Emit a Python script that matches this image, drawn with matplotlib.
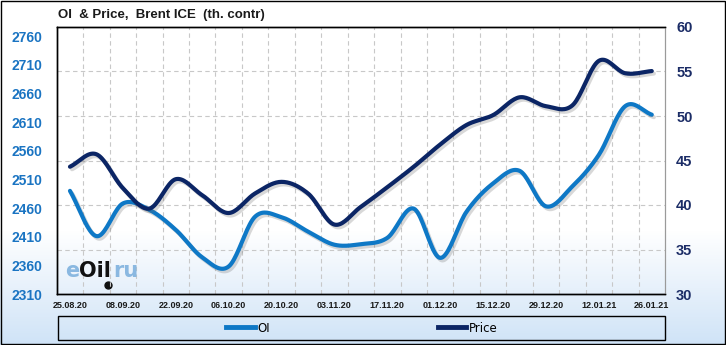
import numpy as np
import matplotlib
matplotlib.use("Agg")
import matplotlib.pyplot as plt
import matplotlib.patheffects as pe
from matplotlib.patches import Rectangle
from matplotlib.lines import Line2D
from matplotlib.colors import LinearSegmentedColormap

weeks = ["25.08.20", "01.09.20", "08.09.20", "15.09.20", "22.09.20", "29.09.20",
         "06.10.20", "13.10.20", "20.10.20", "27.10.20", "03.11.20", "10.11.20",
         "17.11.20", "24.11.20", "01.12.20", "08.12.20", "15.12.20", "22.12.20",
         "29.12.20", "05.01.21", "12.01.21", "19.01.21", "26.01.21"]
oi = [2490, 2411, 2468, 2457, 2422, 2374, 2358, 2445, 2444, 2419, 2396, 2397,
      2408, 2459, 2373, 2454, 2503, 2525, 2463, 2498, 2553, 2638, 2623]
price = [44.3, 45.7, 41.9, 39.6, 42.9, 41.1, 39.1, 41.3, 42.6, 41.3, 37.8, 39.8,
         42.0, 44.3, 46.8, 49.0, 50.1, 52.1, 51.1, 51.2, 56.2, 54.8, 55.05]
left_ticks = [2310, 2360, 2410, 2460, 2510, 2560, 2610, 2660, 2710, 2760]
right_ticks = [30, 35, 40, 45, 50, 55, 60]

OI_COLOR = "#0e78c6"
PRICE_COLOR = "#0b2565"
LEFT_LBL = "#1a74c2"
RIGHT_LBL = "#1b2c66"


def catmull_rom(y, n=20):
    y = np.asarray(y, float)
    x = np.arange(len(y), dtype=float)
    p = np.concatenate([[2 * y[0] - y[1]], y, [2 * y[-1] - y[-2]]])
    xs, ys = [], []
    t = np.linspace(0, 1, n, endpoint=False)
    for i in range(len(y) - 1):
        p0, p1, p2, p3 = p[i], p[i + 1], p[i + 2], p[i + 3]
        seg = 0.5 * ((2 * p1) + (-p0 + p2) * t + (2 * p0 - 5 * p1 + 4 * p2 - p3) * t ** 2
                     + (-p0 + 3 * p1 - 3 * p2 + p3) * t ** 3)
        xs.append(x[i] + t)
        ys.append(seg)
    xs.append([x[-1]])
    ys.append([y[-1]])
    return np.concatenate(xs), np.concatenate(ys)


W, H = 726, 345
fig = plt.figure(figsize=(W / 100, H / 100), dpi=100)

# background gradient
bg = fig.add_axes([0, 0, 1, 1], zorder=-10)
grad = np.ones((H, 1))
yy = np.arange(H)
start = 230
grad[:, 0] = np.clip((yy - start) / (H - start), 0, 1)
cmap = LinearSegmentedColormap.from_list("g", ["#ffffff", "#cfe3f7"])
bg.imshow(grad, aspect="auto", cmap=cmap, extent=[0, 1, 0, 1], origin="upper", vmin=0, vmax=1)
bg.set_xlim(0, 1)
bg.set_ylim(0, 1)
bg.axis("off")
bg.add_patch(Rectangle((0.0007, 0.0015), 0.9986, 0.997, fill=False, edgecolor="black", lw=1.0,
                       transform=bg.transAxes))

left, right, top, bottom = 56.75, 665, 27, 294
ax = fig.add_axes([left / W, (H - bottom) / H, (right - left) / W, (bottom - top) / H])
ax.patch.set_alpha(0)
ax2 = ax.twinx()

n = len(weeks)
ax.set_xlim(-0.5, n - 0.5)
ax.set_ylim(2310, 2776)
ax2.set_ylim(30, 60)

# grids
for i in range(n - 1):
    ax.axvline(i + 0.5, color="#c8c8c8", lw=0.8, ls=(0, (4, 3)), zorder=0)
for v in right_ticks[1:-1]:
    ax.axhline(2310 + (v - 30) / 30 * (2776 - 2310), color="#c8c8c8", lw=0.8, ls=(0, (4, 3)), zorder=0)

shadow = [pe.SimpleLineShadow(offset=(1.5, -1.8), shadow_color="#666666", alpha=0.25),
          pe.Normal()]
xs, ys = catmull_rom(oi)
ax.plot(xs, ys, color=OI_COLOR, lw=3.0, solid_capstyle="round", path_effects=shadow, zorder=3)
xs, ys = catmull_rom(price)
ax2.plot(xs, ys, color=PRICE_COLOR, lw=3.0, solid_capstyle="round", path_effects=shadow, zorder=3)

ax.set_xticks(range(0, n, 2))
ax.set_xticklabels(weeks[0::2], fontsize=6.5, fontweight="bold", color="#1a1a1a",
                   family="Liberation Sans")
ax.set_yticks(left_ticks)
ax.set_yticklabels([str(v) for v in left_ticks], fontsize=10, fontweight="bold",
                   color=LEFT_LBL, family="Liberation Sans")
ax2.set_yticks(right_ticks)
ax2.set_yticklabels([str(v) for v in right_ticks], fontsize=10.5, fontweight="bold",
                    color=RIGHT_LBL, family="Liberation Sans")
ax.tick_params(axis="both", length=0)
ax.tick_params(axis="x", pad=5)
ax.tick_params(axis="y", pad=10)
ax2.tick_params(axis="y", length=0, pad=8)

for a in (ax, ax2):
    for s in ("left", "top", "bottom"):
        a.spines[s].set_color("black")
        a.spines[s].set_linewidth(1.0)
    a.spines["right"].set_color("#9a9a9a")
    a.spines["right"].set_linewidth(0.8)

fig.text(58 / W, 1 - 15 / H, "OI  & Price,  Brent ICE  (th. contr)", fontsize=9.5,
         fontweight="bold", color="#1a1a1a", va="center", ha="left", family="Liberation Sans")

# watermark
wm_y = 1 - 271 / H
t1 = fig.text(65 / W, wm_y, "e", fontsize=15, fontweight="bold", color="#7fb2de",
              va="center", ha="left", family="DejaVu Sans", alpha=0.9)
fig.canvas.draw()
r = fig.canvas.get_renderer()
bb = t1.get_window_extent(r)
t2 = fig.text(bb.x1 / W, wm_y, "Oil", fontsize=15, fontweight="bold", color="#111111",
              va="center", ha="left", family="DejaVu Sans")
bb2 = t2.get_window_extent(r)
fig.text((bb2.x1 + 2) / W, wm_y, "ru", fontsize=15, fontweight="bold", color="#7fb2de",
         va="center", ha="left", family="DejaVu Sans", alpha=0.9)
bg.plot([(bb2.x1 - 3) / W], [1 - 285 / H], marker="o", ms=5, color="#111111")

# legend box
bg.add_patch(Rectangle((58 / W, 1 - 340 / H), (665 - 58) / W, 24 / H, fill=False,
                       edgecolor="black", lw=1.0, transform=bg.transAxes))
handles = [Line2D([], [], color=OI_COLOR, lw=3.5), Line2D([], [], color=PRICE_COLOR, lw=3.5)]
fig.legend(handles, ["OI", "Price"], loc="center", bbox_to_anchor=(362 / W, 1 - 328 / H),
           ncol=2, frameon=False, handlelength=2.4, handletextpad=0.25, columnspacing=14.2,
           prop={"family": "DejaVu Sans", "size": 8.5})

fig.savefig("out.png", dpi=100)
